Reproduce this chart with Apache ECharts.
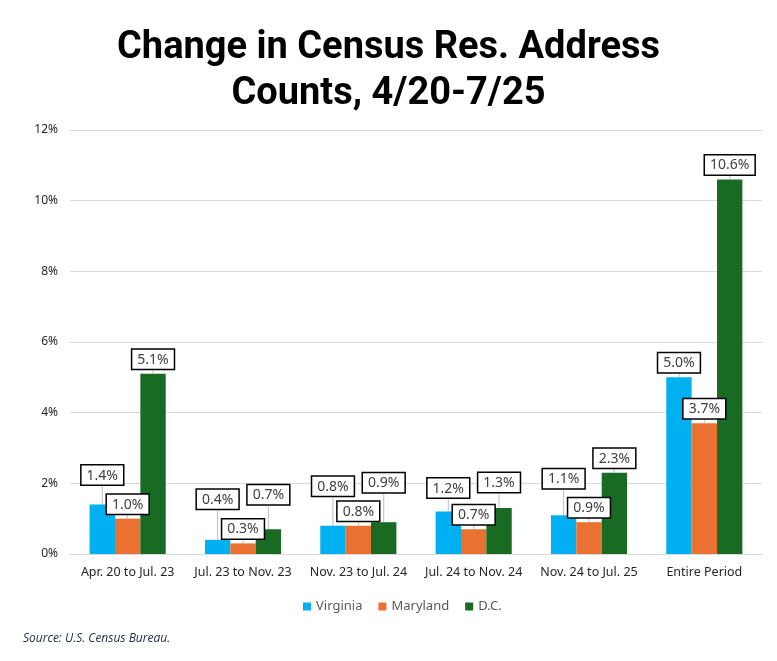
<!DOCTYPE html>
<html>
<head>
<meta charset="utf-8">
<script src="https://cdn.jsdelivr.net/npm/echarts@6/dist/echarts.min.js"></script>
<style>
    html, body { margin: 0; padding: 0; background: #fff; }
    #chart { width: 777px; height: 661px; }
</style>
</head>
<body>
<div id="chart"></div>
<script>
// data
const periods = ['Apr. 20 to Jul. 23', 'Jul. 23 to Nov. 23', 'Nov. 23 to Jul. 24', 'Jul. 24 to Nov. 24', 'Nov. 24 to Jul. 25', 'Entire Period'];
const virginia = [1.4, 0.4, 0.8, 1.2, 1.1, 5.0];
const maryland = [1.0, 0.3, 0.8, 0.7, 0.9, 3.7];
const dc = [5.1, 0.7, 0.9, 1.3, 2.3, 10.6];
const yTicks = [0, 2, 4, 6, 8, 10, 12];

// vertical nudges of the data labels (Excel had moved some of them)
const labelShift = [
    [-15, -26, -25, -9, -22, 0],
    [0, 0, 0, 0, 0, 0],
    [0, -20, -25, -11, 0, 0]
];

const chart = echarts.init(document.getElementById('chart'));

function makeSeries(name, values, color, idx) {
    return {
        name: name,
        type: 'bar',
        data: values,
        barGap: 0,
        barCategoryGap: '34%',
        itemStyle: { color: color },
        label: {
            show: true,
            position: 'top',
            distance: 5,
            formatter: p => p.value.toFixed(1) + '%',
            fontFamily: 'Noto Sans',
            fontSize: 14,
            color: '#404040',
            backgroundColor: '#fff',
            borderColor: '#000',
            borderWidth: 1.5,
            padding: [3, 5, 2, 5]
        },
        labelLine: {
            show: true,
            lineStyle: { color: '#bfbfbf', width: 1 }
        },
        labelLayout: function (params) {
            const dy = labelShift[idx][params.dataIndex];
            return dy ? { dy: dy } : {};
        }
    };
}

const option = {
    animation: false,
    title: [
        {
            text: 'Change in Census Res. Address\nCounts, 4/20-7/25',
            left: 'center',
            top: 20,
            padding: [5, 5, 5, 28],
            textStyle: {
                fontFamily: 'Roboto, sans-serif',
                fontWeight: 'bold',
                fontSize: 38,
                lineHeight: 46,
                color: '#000'
            }
        },
        {
            text: 'Source: U.S. Census Bureau.',
            left: 18,
            top: 628,
            textStyle: {
                fontFamily: 'Open Sans',
                fontStyle: 'italic',
                fontWeight: 'normal',
                fontSize: 12,
                color: '#1f2a3c'
            }
        }
    ],
    legend: {
        top: 595,
        left: 298,
        icon: 'rect',
        itemWidth: 8,
        itemHeight: 8,
        itemGap: 16,
        textStyle: { fontFamily: 'Noto Sans', fontSize: 13, color: '#595959' },
        data: ['Virginia', 'Maryland', 'D.C.']
    },
    grid: { left: 70, right: 15, top: 130, bottom: 107 },
    xAxis: {
        type: 'category',
        data: periods,
        axisTick: { show: false },
        axisLine: { lineStyle: { color: '#d9d9d9' } },
        axisLabel: { fontFamily: 'Noto Sans', fontSize: 12.5, color: '#262626', margin: 12, interval: 0 }
    },
    yAxis: {
        type: 'value',
        min: yTicks[0],
        max: yTicks[yTicks.length - 1],
        interval: 2,
        axisLine: { show: false },
        axisTick: { show: false },
        splitLine: { lineStyle: { color: '#d9d9d9' } },
        axisLabel: { formatter: '{value}%', fontFamily: 'Noto Sans', fontSize: 12, color: '#262626', margin: 12 }
    },
    series: [
        makeSeries('Virginia', virginia, '#00b0f0', 0),
        makeSeries('Maryland', maryland, '#e97132', 1),
        makeSeries('D.C.', dc, '#196b24', 2)
    ]
};

chart.setOption(option);
</script>
</body>
</html>
